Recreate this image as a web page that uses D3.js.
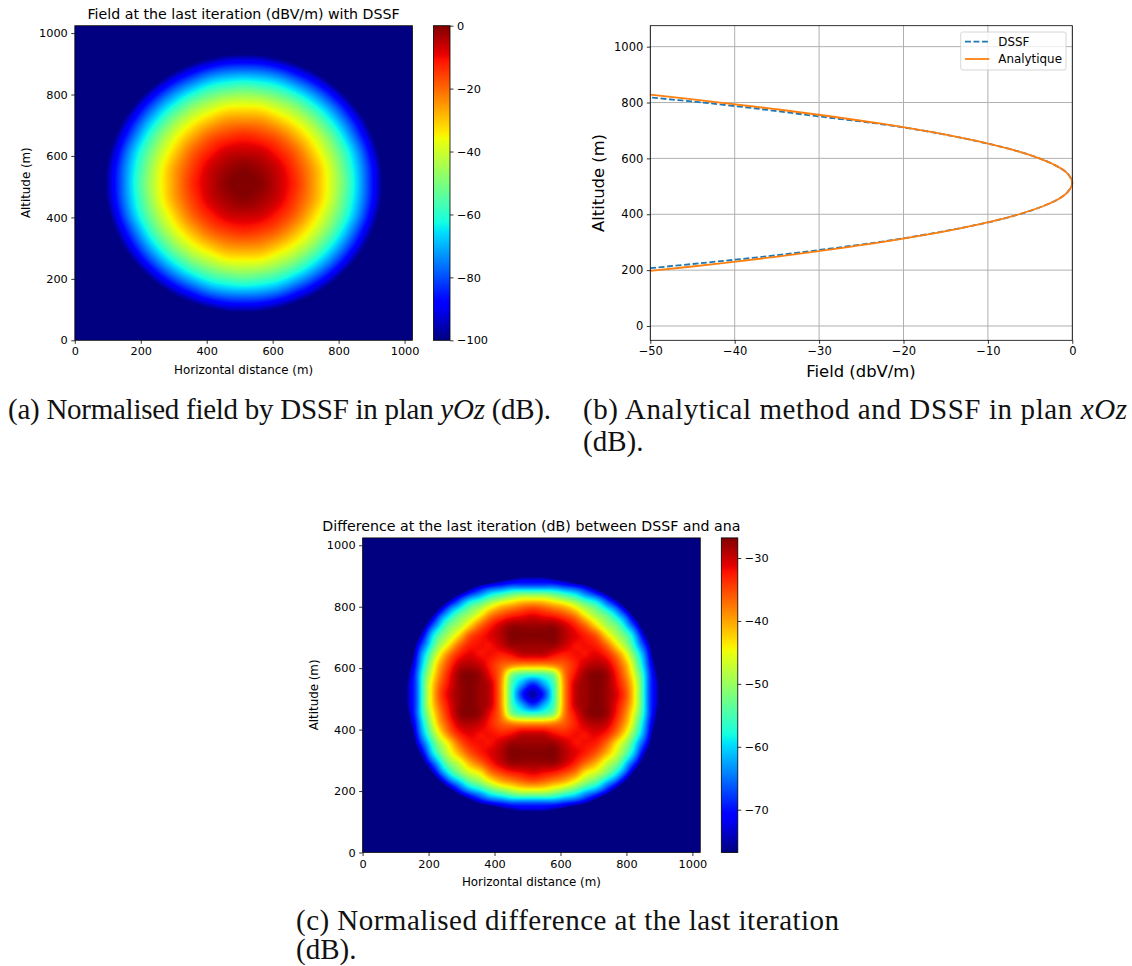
<!DOCTYPE html>
<html>
<head>
<meta charset="utf-8">
<script src="https://cdn.jsdelivr.net/npm/d3@7"></script>
<style>
  html, body { margin: 0; background: #fff; }
  svg { display: block; }
  text { font-family: "DejaVu Sans", sans-serif; fill: #000; }
  .caption { font-family: "Liberation Serif", serif; font-size: 29px; fill: #111; }
</style>
</head>
<body>
<svg id="figure" width="1132" height="966"></svg>
<script>
// field in dBV/m, one quarter from the centre outwards (51.2 m steps).
// anything under -100 is just clipped by the colour bar
const fieldQuarter = [
  [0, -1, -6, -13, -24, -37, -53, -73, -95, -120, -130],
  [-1, -3, -7, -15, -25, -38, -55, -74, -96, -121, -130],
  [-6, -7, -12, -19, -30, -43, -59, -78, -101, -126, -130],
  [-13, -15, -19, -27, -37, -50, -67, -86, -108, -130, -130],
  [-24, -25, -30, -37, -47, -61, -77, -96, -118, -130, -130],
  [-37, -38, -43, -50, -61, -74, -90, -110, -130, -130, -130],
  [-53, -55, -59, -67, -77, -90, -107, -126, -130, -130, -130],
  [-73, -74, -78, -86, -96, -110, -126, -130, -130, -130, -130],
  [-95, -96, -101, -108, -118, -130, -130, -130, -130, -130, -130],
  [-120, -121, -126, -130, -130, -130, -130, -130, -130, -130, -130],
  [-130, -130, -130, -130, -130, -130, -130, -130, -130, -130, -130]
];

// difference in dB, rows top to bottom, centre column to the right (32 m steps).
// left side mirrors the right, under -76.8 is clipped by the colour bar
const diffHalfRows = [
  [-110, -110, -110, -110, -110, -110, -110, -110, -110, -110, -110, -110, -110, -110, -110, -110, -110],
  [-110, -110, -110, -110, -110, -110, -110, -110, -110, -110, -110, -110, -110, -110, -110, -110, -110],
  [-110, -110, -110, -110, -110, -110, -110, -110, -110, -110, -110, -110, -110, -110, -110, -110, -110],
  [-106, -107, -110, -110, -110, -110, -110, -110, -110, -110, -110, -110, -110, -110, -110, -110, -110],
  [-78, -78, -81, -84, -91, -98, -107, -110, -110, -110, -110, -110, -110, -110, -110, -110, -110],
  [-66, -66, -66, -68, -70, -74, -82, -93, -108, -110, -110, -110, -110, -110, -110, -110, -110],
  [-49, -49, -51, -54, -57, -62, -66, -73, -85, -102, -110, -110, -110, -110, -110, -110, -110],
  [-37, -38, -40, -42, -46, -51, -55, -62, -69, -82, -102, -110, -110, -110, -110, -110, -110],
  [-31, -32, -33, -35, -38, -44, -49, -53, -60, -69, -85, -108, -110, -110, -110, -110, -110],
  [-28, -28, -28, -30, -33, -37, -43, -49, -53, -62, -73, -93, -110, -110, -110, -110, -110],
  [-27, -27, -27, -29, -31, -33, -36, -43, -49, -55, -66, -82, -107, -110, -110, -110, -110],
  [-28, -28, -28, -30, -32, -32, -33, -37, -44, -51, -62, -74, -98, -110, -110, -110, -110],
  [-30, -30, -32, -33, -32, -32, -31, -33, -38, -46, -57, -70, -91, -110, -110, -110, -110],
  [-39, -39, -38, -36, -33, -30, -29, -30, -35, -42, -54, -68, -84, -110, -110, -110, -110],
  [-56, -55, -51, -38, -32, -28, -27, -28, -33, -40, -51, -66, -81, -110, -110, -110, -110],
  [-69, -63, -55, -39, -30, -28, -27, -28, -32, -38, -49, -66, -78, -107, -110, -110, -110],
  [-75, -69, -56, -39, -30, -28, -27, -28, -31, -37, -49, -66, -78, -106, -110, -110, -110],
  [-69, -63, -55, -39, -30, -28, -27, -28, -32, -38, -49, -66, -78, -107, -110, -110, -110],
  [-56, -55, -51, -38, -32, -28, -27, -28, -33, -40, -51, -66, -81, -110, -110, -110, -110],
  [-39, -39, -38, -36, -33, -30, -29, -30, -35, -42, -54, -68, -84, -110, -110, -110, -110],
  [-30, -30, -32, -33, -32, -32, -31, -33, -38, -46, -57, -70, -91, -110, -110, -110, -110],
  [-28, -28, -28, -30, -32, -32, -33, -37, -44, -51, -62, -74, -98, -110, -110, -110, -110],
  [-27, -27, -27, -29, -31, -33, -36, -41, -47, -55, -66, -82, -107, -110, -110, -110, -110],
  [-28, -28, -28, -30, -33, -37, -41, -47, -52, -62, -73, -93, -110, -110, -110, -110, -110],
  [-31, -32, -33, -35, -38, -44, -47, -52, -59, -69, -85, -108, -110, -110, -110, -110, -110],
  [-37, -38, -40, -42, -46, -51, -55, -62, -69, -82, -102, -110, -110, -110, -110, -110, -110],
  [-49, -49, -51, -54, -57, -62, -66, -73, -85, -102, -110, -110, -110, -110, -110, -110, -110],
  [-66, -66, -66, -68, -70, -74, -82, -93, -108, -110, -110, -110, -110, -110, -110, -110, -110],
  [-78, -78, -81, -84, -91, -98, -107, -110, -110, -110, -110, -110, -110, -110, -110, -110, -110],
  [-106, -107, -110, -110, -110, -110, -110, -110, -110, -110, -110, -110, -110, -110, -110, -110, -110],
  [-110, -110, -110, -110, -110, -110, -110, -110, -110, -110, -110, -110, -110, -110, -110, -110, -110],
  [-110, -110, -110, -110, -110, -110, -110, -110, -110, -110, -110, -110, -110, -110, -110, -110, -110],
  [-110, -110, -110, -110, -110, -110, -110, -110, -110, -110, -110, -110, -110, -110, -110, -110, -110]
];

// panel (b) curves
const dssfAltitude = [207, 225, 250, 275, 300, 325, 350, 375, 400, 425, 450, 475, 500, 512, 525, 550, 575, 600, 625, 650, 675, 700, 725, 750, 775, 800, 818];
const dssfField = [-50, -44, -36, -29.2, -23, -17.8, -13.3, -9.4, -6.3, -3.8, -1.9, -0.7, -0.1, 0, -0.1, -0.7, -2, -3.9, -6.4, -9.6, -13.4, -17.8, -23.2, -30, -36.5, -43.8, -50];
const anaAltitude = [197, 225, 250, 275, 300, 325, 350, 375, 400, 425, 450, 475, 500, 512, 525, 550, 575, 600, 625, 650, 675, 700, 725, 750, 775, 800, 828];
const anaField = [-50, -41.4, -34.5, -28.3, -22.6, -17.6, -13.2, -9.4, -6.3, -3.8, -1.9, -0.7, -0.1, 0, -0.1, -0.7, -2, -3.9, -6.4, -9.6, -13.4, -17.8, -22.8, -28.5, -34.8, -41.7, -50];

const distanceTicks = [0, 200, 400, 600, 800, 1000];
const fieldTicks = [-50, -40, -30, -20, -10, 0];
const fieldBarTicks = [0, -20, -40, -60, -80, -100];
const diffBarTicks = [-30, -40, -50, -60, -70];
const legendNames = ['DSSF', 'Analytique'];

const svg = d3.select('#figure');

// matplotlib jet, one piecewise scale per channel
const jetR = d3.scaleLinear().domain([0, 0.35, 0.66, 0.89, 1]).range([0, 0, 255, 255, 127.5]);
const jetG = d3.scaleLinear().domain([0, 0.125, 0.375, 0.64, 0.91, 1]).range([0, 0, 255, 255, 0, 0]);
const jetB = d3.scaleLinear().domain([0, 0.11, 0.34, 0.65, 1]).range([127.5, 255, 255, 0, 0]);
const jet = t => `rgb(${Math.round(jetR(t))},${Math.round(jetG(t))},${Math.round(jetB(t))})`;

function catmull(p0, p1, p2, p3, t) {
  return 0.5 * (2 * p1 + (p2 - p0) * t + (2 * p0 - 5 * p1 + 4 * p2 - p3) * t * t + (3 * p1 - p0 - 3 * p2 + p3) * t * t * t);
}

// smooth the read values for display, like imshow with bicubic interpolation
function smoothGrid(rows, factor) {
  const n = rows.length;
  const m = (n - 1) * factor + 1;
  const at = (r, c) => rows[Math.max(0, Math.min(n - 1, r))][Math.max(0, Math.min(n - 1, c))];
  const out = new Float64Array(m * m);
  for (let j = 0; j < m; j++) {
    const r = Math.floor(j / factor), tr = j / factor - r;
    for (let i = 0; i < m; i++) {
      const c = Math.floor(i / factor), tc = i / factor - c;
      const col = [-1, 0, 1, 2].map(dr => catmull(at(r + dr, c - 1), at(r + dr, c), at(r + dr, c + 1), at(r + dr, c + 2), tc));
      out[j * m + i] = catmull(col[0], col[1], col[2], col[3], tr);
    }
  }
  return { values: out, size: m };
}

function styleAxis(sel, fontSize) {
  sel.select('.domain').remove();
  sel.selectAll('.tick line').attr('stroke', '#000').attr('stroke-width', 0.8);
  sel.selectAll('.tick text').attr('font-size', fontSize).attr('font-family', '"DejaVu Sans", sans-serif').attr('fill', '#000');
}

function drawHeatPanel(opts) {
  const x = d3.scaleLinear().domain([0, 1024]).range([opts.left, opts.left + 337.7]);
  const y = d3.scaleLinear().domain([0, 1024]).range([opts.top + 314.6, opts.top]);
  const g = svg.append('g');
  const clipId = opts.id + '-clip';
  svg.append('clipPath').attr('id', clipId).append('rect')
    .attr('x', opts.left).attr('y', opts.top).attr('width', 337.7).attr('height', 314.6);

  const norm = d3.scaleLinear().domain(opts.range).range([0, 1]);
  const heat = g.append('g').attr('clip-path', `url(#${clipId})`);
  heat.append('rect')
    .attr('x', opts.left).attr('y', opts.top).attr('width', 337.7).attr('height', 314.6)
    .attr('fill', jet(0));

  const grid = smoothGrid(opts.rows, opts.factor);
  const step = opts.spacing / opts.factor;
  const levels = d3.range(opts.range[0], opts.range[1], opts.levelStep);
  const contours = d3.contours().size([grid.size, grid.size]).thresholds(levels)(grid.values);
  const path = d3.geoPath(d3.geoTransform({
    point(px, py) {
      this.stream.point(x(opts.originX + (px - 0.5) * step), y(opts.originY + (grid.size - 1 - (py - 0.5)) * step));
    }
  }));
  heat.selectAll('path').data(contours).join('path')
    .attr('d', path)
    .attr('fill', d => jet(norm(d.value + opts.levelStep / 2)));

  g.append('rect').attr('x', opts.left).attr('y', opts.top).attr('width', 337.7).attr('height', 314.6)
    .attr('fill', 'none').attr('stroke', '#000').attr('stroke-width', 0.8);

  styleAxis(g.append('g').attr('transform', `translate(0,${opts.top + 314.6})`)
    .call(d3.axisBottom(x).tickValues(distanceTicks).tickFormat(d3.format('d')).tickSize(3.5).tickSizeOuter(0).tickPadding(3.5)), 11.3);
  styleAxis(g.append('g').attr('transform', `translate(${opts.left},0)`)
    .call(d3.axisLeft(y).tickValues(distanceTicks).tickFormat(d3.format('d')).tickSize(3.5).tickSizeOuter(0).tickPadding(3.5)), 11.3);

  g.append('text').attr('x', opts.left + 168.8).attr('y', opts.top + 348)
    .attr('text-anchor', 'middle').attr('font-size', 11.85).text('Horizontal distance (m)');
  g.append('text').attr('transform', `translate(${opts.left - 45},${opts.top + 157}) rotate(-90)`)
    .attr('text-anchor', 'middle').attr('font-size', 11.85).text('Altitude (m)');
  g.append('text').attr('x', opts.left + 168.8).attr('y', opts.top - 7)
    .attr('text-anchor', 'middle').attr('font-size', opts.titleSize).text(opts.title);

  // colour bar
  const barX = opts.left + 358.7;
  const barW = 16.5;
  const gradId = opts.id + '-grad';
  const grad = svg.append('linearGradient').attr('id', gradId)
    .attr('x1', 0).attr('y1', 1).attr('x2', 0).attr('y2', 0);
  d3.range(0, 1.0001, 0.01).forEach(t => {
    grad.append('stop').attr('offset', t).attr('stop-color', jet(t));
  });
  g.append('rect').attr('x', barX).attr('y', opts.top).attr('width', barW).attr('height', 314.6)
    .attr('fill', `url(#${gradId})`).attr('stroke', '#000').attr('stroke-width', 0.8);
  const barScale = d3.scaleLinear().domain(opts.range).range([opts.top + 314.6, opts.top]);
  styleAxis(g.append('g').attr('transform', `translate(${barX + barW},0)`)
    .call(d3.axisRight(barScale).tickValues(opts.barTicks).tickSize(3.5).tickSizeOuter(0).tickPadding(3.5)), 11.3);
}

// field in plan yOz
const fieldRows = d3.range(-10, 11).map(k => {
  const row = fieldQuarter[Math.abs(k)];
  return row.slice(1).reverse().concat(row);
});

drawHeatPanel({
  id: 'field', left: 74.8, top: 25.7, rows: fieldRows, factor: 8, spacing: 51.2,
  originX: 1, originY: -1, range: [-100, 0], levelStep: 0.5, barTicks: fieldBarTicks,
  title: 'Field at the last iteration (dBV/m) with DSSF', titleSize: 14.2
});

// difference panel
const diffRows = diffHalfRows.map(row => row.slice(1).reverse().concat(row));

drawHeatPanel({
  id: 'diff', left: 362.6, top: 537.9, rows: diffRows, factor: 5, spacing: 32,
  originX: 4, originY: 3, range: [-76.8, -26.8], levelStep: 0.25, barTicks: diffBarTicks,
  title: 'Difference at the last iteration (dB) between DSSF and ana', titleSize: 14.2
});

// panel (b)
function drawLinePanel() {
  const left = 650.3, right = 1072.3, top = 25.7, bottom = 340.3;
  const x = d3.scaleLinear().domain([-50, 0]).range([left, right]);
  const y = d3.scaleLinear().domain([-51.2, 1075]).range([bottom, top]);
  const g = svg.append('g');

  g.append('g').selectAll('line').data(fieldTicks).join('line')
    .attr('x1', d => x(d)).attr('x2', d => x(d)).attr('y1', top).attr('y2', bottom)
    .attr('stroke', '#b0b0b0').attr('stroke-width', 1);
  g.append('g').selectAll('line').data(distanceTicks).join('line')
    .attr('x1', left).attr('x2', right).attr('y1', d => y(d)).attr('y2', d => y(d))
    .attr('stroke', '#b0b0b0').attr('stroke-width', 1);

  const line = d3.line().x(d => x(d[0])).y(d => y(d[1])).curve(d3.curveCatmullRom);
  g.append('path').datum(d3.zip(dssfField, dssfAltitude))
    .attr('d', line).attr('fill', 'none').attr('stroke', '#1f77b4')
    .attr('stroke-width', 1.8).attr('stroke-dasharray', '5.9,2.6');
  g.append('path').datum(d3.zip(anaField, anaAltitude))
    .attr('d', line).attr('fill', 'none').attr('stroke', '#ff7f0e').attr('stroke-width', 1.8);

  g.append('rect').attr('x', left).attr('y', top).attr('width', right - left).attr('height', bottom - top)
    .attr('fill', 'none').attr('stroke', '#000').attr('stroke-width', 0.8);

  styleAxis(g.append('g').attr('transform', `translate(0,${bottom})`)
    .call(d3.axisBottom(x).tickValues(fieldTicks).tickSize(3.5).tickSizeOuter(0).tickPadding(3.5)), 11.5);
  styleAxis(g.append('g').attr('transform', `translate(${left},0)`)
    .call(d3.axisLeft(y).tickValues(distanceTicks).tickFormat(d3.format('d')).tickSize(3.5).tickSizeOuter(0).tickPadding(3.5)), 11.5);

  g.append('text').attr('x', 861).attr('y', 377).attr('text-anchor', 'middle')
    .attr('font-size', 16.4).text('Field (dbV/m)');
  g.append('text').attr('transform', 'translate(604,183) rotate(-90)').attr('text-anchor', 'middle')
    .attr('font-size', 16.4).text('Altitude (m)');

  const legend = g.append('g');
  legend.append('rect').attr('x', 960.7).attr('y', 32).attr('width', 105.3).attr('height', 38)
    .attr('rx', 2).attr('fill', '#fff').attr('fill-opacity', 0.8).attr('stroke', '#ccc').attr('stroke-width', 0.8);
  legendNames.forEach((name, i) => {
    const ly = 41.7 + i * 17.3;
    legend.append('line').attr('x1', 965).attr('x2', 989.3).attr('y1', ly).attr('y2', ly)
      .attr('stroke', i ? '#ff7f0e' : '#1f77b4').attr('stroke-width', 1.8)
      .attr('stroke-dasharray', i ? null : '5.9,2.6');
    legend.append('text').attr('x', 998.3).attr('y', ly + 4.2).attr('font-size', 11.9).text(name);
  });
}
drawLinePanel();

// captions, LaTeX style
function caption(cx, cy, parts, width) {
  const t = svg.append('text').attr('class', 'caption').attr('x', cx).attr('y', cy);
  if (width) t.attr('textLength', width).attr('lengthAdjust', 'spacing');
  parts.forEach(p => {
    t.append('tspan').attr('font-style', p[1] ? 'italic' : 'normal').text(p[0]);
  });
}
caption(8, 419, [['(a) Normalised field by DSSF in plan '], ['yOz', true], [' (dB).']], 543);
caption(583, 419, [['(b) Analytical method and DSSF in plan '], ['xOz', true]], 544);
caption(583, 451, [['(dB).']]);
caption(296, 930, [['(c) Normalised difference at the last iteration']], 543);
caption(296, 959, [['(dB).']]);
</script>
</body>
</html>
